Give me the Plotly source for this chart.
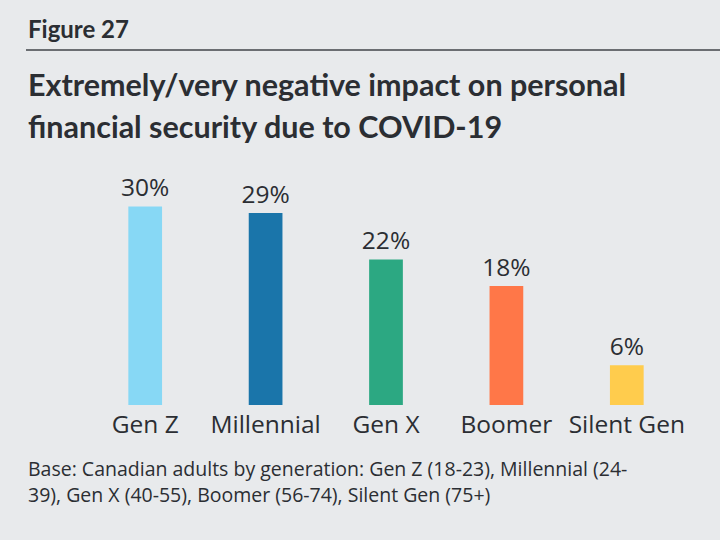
import plotly.graph_objects as go

categories = ["Gen Z", "Millennial", "Gen X", "Boomer", "Silent Gen"]
values = [30, 29, 22, 18, 6]
value_labels = ["30%", "29%", "22%", "18%", "6%"]
colors = ["#87d8f5", "#1a75aa", "#2ca882", "#ff7748", "#ffcc4d"]

BG = "#e8eaec"
TFONT = "Lato"
FONT = "Open Sans"

fig = go.Figure(go.Bar(
    x=categories, y=values, text=value_labels, textposition="outside",
    constraintext="none",
    marker=dict(color=colors, line=dict(width=0)),
    width=0.28, cliponaxis=False,
    textfont=dict(family=FONT, size=24.5, color="#2b2e33"),
))

L, R, T, B = 85, 33, 180, 135
W, H = 720, 540
pw, ph = W - L - R, H - T - B

def px(x):
    return (x - L) / pw

def py(y):
    return (H - B - y) / ph

fig.update_layout(
    width=W, height=H,
    margin=dict(l=L, r=R, t=T, b=B),
    paper_bgcolor=BG, plot_bgcolor=BG,
    showlegend=False,
    xaxis=dict(showgrid=False, showline=False, zeroline=False, ticks="",
               ticklabelstandoff=2,
               tickfont=dict(family=FONT, size=24.5, color="#2b2e33")),
    yaxis=dict(range=[0, 34], visible=False),
    shapes=[dict(type="line", xref="paper", yref="paper",
                 x0=px(26), x1=px(720), y0=py(50), y1=py(50),
                 line=dict(color="#6b6e72", width=2))],
    annotations=[
        dict(text="<b>Figure 27</b>", xref="paper", yref="paper", x=px(26), y=py(29),
             xanchor="left", yanchor="middle", showarrow=False,
             font=dict(family=TFONT, size=24, color="#2b2e33")),
        dict(text="<b>Extremely/very negative impact on personal</b>", xref="paper", yref="paper",
             x=px(26), y=py(84), xanchor="left", yanchor="middle", showarrow=False,
             font=dict(family=TFONT, size=30.5, color="#2b2e33")),
        dict(text="<b>financial security due to COVID-19</b>", xref="paper", yref="paper",
             x=px(26), y=py(126), xanchor="left", yanchor="middle", showarrow=False,
             font=dict(family=TFONT, size=30.5, color="#2b2e33")),
        dict(text="Base: Canadian adults by generation: Gen Z (18-23), Millennial (24-", xref="paper", yref="paper",
             x=px(26), y=py(468), xanchor="left", yanchor="middle", showarrow=False,
             font=dict(family=FONT, size=19.5, color="#2b2e33")),
        dict(text="39), Gen X (40-55), Boomer (56-74), Silent Gen (75+)", xref="paper", yref="paper",
             x=px(26), y=py(494), xanchor="left", yanchor="middle", showarrow=False,
             font=dict(family=FONT, size=19.5, color="#2b2e33")),
    ],
)

fig.write_html("out.html", config={"displayModeBar": False},
               post_script="document.body.style.margin='0';")
